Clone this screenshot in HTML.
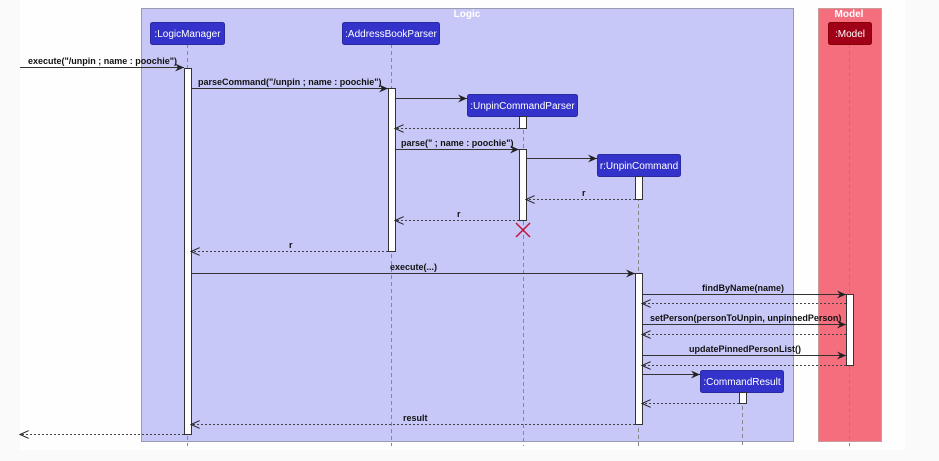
<!DOCTYPE html>
<html><head><meta charset="utf-8"><style>
html,body{margin:0;padding:0;background:#fafafa;}
svg{display:block;font-family:"Liberation Sans",sans-serif;}
.lbl{font-size:9px;font-weight:bold;fill:#111;}
.hd{font-size:10px;fill:#fff;}
</style></head><body>
<svg width="939" height="461" viewBox="0 0 939 461" xmlns="http://www.w3.org/2000/svg">
<defs>
<marker id="a" markerWidth="10" markerHeight="8" refX="9" refY="4" orient="auto" markerUnits="userSpaceOnUse">
<path d="M0,0 L9,4 L0,8 L3,4 Z" fill="#222"/></marker>
<marker id="b" markerWidth="10" markerHeight="8" refX="9" refY="4" orient="auto" markerUnits="userSpaceOnUse">
<path d="M0,0 L9,4 L0,8" fill="none" stroke="#222" stroke-width="1"/></marker>
</defs>
<rect x="20" y="0" width="885" height="450" fill="#fefefe"/>
<!-- boxes -->
<rect x="141.5" y="8.5" width="652" height="433" fill="#c8c8f8" stroke="#9a9ab0"/>
<text x="467" y="17" class="hd" font-weight="bold" font-size="9" text-anchor="middle">Logic</text>
<rect x="818.5" y="8.5" width="63" height="433" fill="#f46e7e" stroke="#c99"/>
<text x="849" y="17" class="hd" font-weight="bold" font-size="9" text-anchor="middle">Model</text>
<!-- lifelines -->
<g stroke="#888" stroke-dasharray="4,3" stroke-width="1">
<line x1="187.5" y1="44" x2="187.5" y2="446"/>
<line x1="391.5" y1="44" x2="391.5" y2="446"/>
<line x1="523.5" y1="116" x2="523.5" y2="446"/>
<line x1="638.5" y1="176" x2="638.5" y2="446"/>
<line x1="742.5" y1="392" x2="742.5" y2="446"/>
<line x1="849.5" y1="44" x2="849.5" y2="446"/>
</g>
<!-- participants -->
<rect x="150.5" y="22.5" width="74" height="22" rx="2" fill="#3333cc" stroke="#2a2aa0"/>
<text x="187.5" y="37" class="hd" text-anchor="middle">:LogicManager</text>
<rect x="342.5" y="22.5" width="97" height="22" rx="2" fill="#3333cc" stroke="#2a2aa0"/>
<text x="391" y="37" class="hd" text-anchor="middle">:AddressBookParser</text>
<rect x="467.5" y="94.5" width="110" height="22" rx="2" fill="#3333cc" stroke="#2a2aa0"/>
<text x="522.5" y="109" class="hd" text-anchor="middle">:UnpinCommandParser</text>
<rect x="597.5" y="154.5" width="83" height="22" rx="2" fill="#3333cc" stroke="#2a2aa0"/>
<text x="639" y="169" class="hd" text-anchor="middle">r:UnpinCommand</text>
<rect x="700.5" y="370.5" width="83" height="22" rx="2" fill="#3333cc" stroke="#2a2aa0"/>
<text x="742" y="385" class="hd" text-anchor="middle">:CommandResult</text>
<rect x="828.5" y="22.5" width="43" height="22" rx="2" fill="#a00018" stroke="#800"/>
<text x="850" y="37" class="hd" text-anchor="middle">:Model</text>
<!-- activations -->
<g fill="#fff" stroke="#333" stroke-width="1">
<rect x="184.5" y="68.5" width="7" height="366"/>
<rect x="388.5" y="88.5" width="7" height="163"/>
<rect x="519.5" y="116.5" width="7" height="12"/>
<rect x="519.5" y="149.5" width="7" height="71"/>
<rect x="635.5" y="176.5" width="7" height="23"/>
<rect x="635.5" y="273.5" width="7" height="151"/>
<rect x="846.5" y="294.5" width="7" height="71"/>
<rect x="739.5" y="392.5" width="7" height="11"/>
</g>
<!-- destroy -->
<g stroke="#c0143c" stroke-width="1.5"><line x1="516" y1="223" x2="530" y2="237"/><line x1="530" y1="223" x2="516" y2="237"/></g>
<!-- sync msgs -->
<g stroke="#333" stroke-width="1" marker-end="url(#a)">
<line x1="20" y1="67.5" x2="184" y2="67.5"/>
<line x1="191" y1="88.5" x2="388" y2="88.5"/>
<line x1="395" y1="98.5" x2="467" y2="98.5"/>
<line x1="395" y1="149.5" x2="519" y2="149.5"/>
<line x1="526" y1="158.5" x2="597" y2="158.5"/>
<line x1="191" y1="273.5" x2="635" y2="273.5"/>
<line x1="642" y1="294.5" x2="846" y2="294.5"/>
<line x1="642" y1="324.5" x2="846" y2="324.5"/>
<line x1="642" y1="355.5" x2="846" y2="355.5"/>
<line x1="642" y1="374.5" x2="700" y2="374.5"/>
</g>
<!-- returns -->
<g stroke="#444" stroke-width="1" stroke-dasharray="2,2" marker-end="url(#b)">
<line x1="519" y1="128.5" x2="395" y2="128.5"/>
<line x1="635" y1="199.5" x2="526" y2="199.5"/>
<line x1="519" y1="220.5" x2="395" y2="220.5"/>
<line x1="388" y1="251.5" x2="191" y2="251.5"/>
<line x1="846" y1="303.5" x2="642" y2="303.5"/>
<line x1="846" y1="334.5" x2="642" y2="334.5"/>
<line x1="846" y1="365.5" x2="642" y2="365.5"/>
<line x1="739" y1="403.5" x2="642" y2="403.5"/>
<line x1="635" y1="424.5" x2="191" y2="424.5"/>
<line x1="184" y1="434.5" x2="20" y2="434.5"/>
</g>
<!-- labels -->
<text x="28" y="64" class="lbl">execute("/unpin ; name : poochie")</text>
<text x="198" y="85" class="lbl">parseCommand("/unpin ; name : poochie")</text>
<text x="401" y="146" class="lbl">parse(" ; name : poochie")</text>
<text x="582" y="196" class="lbl">r</text>
<text x="457" y="217" class="lbl">r</text>
<text x="289" y="248" class="lbl">r</text>
<text x="390" y="270" class="lbl">execute(...)</text>
<text x="743" y="291" class="lbl" text-anchor="middle">findByName(name)</text>
<text x="650" y="321" class="lbl">setPerson(personToUnpin, unpinnedPerson)</text>
<text x="689" y="352" class="lbl">updatePinnedPersonList()</text>
<text x="403" y="421" class="lbl">result</text>
</svg>
</body></html>
